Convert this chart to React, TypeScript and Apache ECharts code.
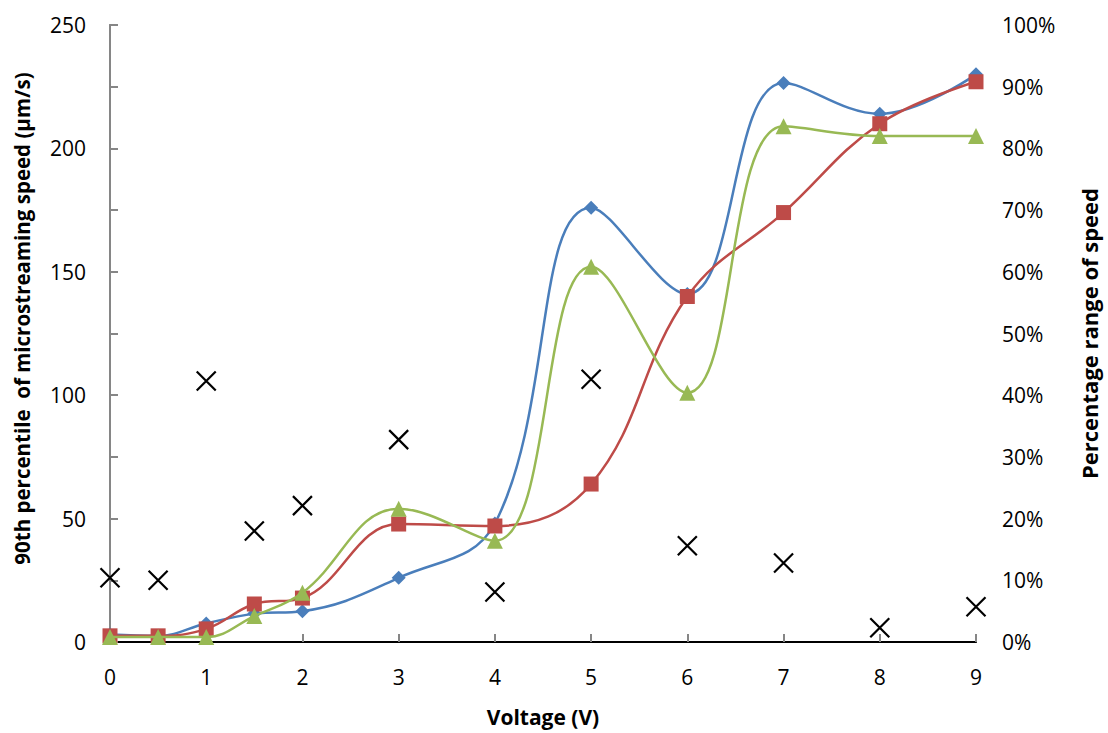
import React, { useEffect, useRef } from "react";
import * as echarts from "echarts";

const voltages = [0, 0.5, 1, 1.5, 2, 3, 4, 5, 6, 7, 8, 9];
const blueSpeed = [3, 2.5, 7.5, 11.5, 12.5, 26, 48, 176, 141, 226.5, 214, 230];
const redSpeed = [2.5, 2.5, 5.3, 15.4, 17.8, 47.8, 47, 64, 140, 174, 210, 227];
const greenSpeed = [2, 2, 2, 10.5, 20, 54, 41, 152, 101, 209, 205, 205];
const rangePct = [0.104, 0.1, 0.423, 0.18, 0.221, 0.328, 0.081, 0.426, 0.156, 0.128, 0.023, 0.057];

const xTitle = "Voltage (V)";
const yLeftTitle = "90th percentile  of microstreaming speed (µm/s)";
const yRightTitle = "Percentage range of speed";

const FONT = "Open Sans";

function pairs(xs: number[], ys: number[]) {
  return xs.map((x, i) => [x, ys[i]]);
}

export default function App() {
  const ref = useRef<HTMLDivElement>(null);
  useEffect(() => {
    if (!ref.current) return;
    const chart = echarts.init(ref.current, undefined, { renderer: "svg" });
    const axisGray = "#868686";
    chart.setOption({
      animation: false,
      backgroundColor: "#ffffff",
      grid: { left: 110, right: 130, top: 25, bottom: 91, containLabel: false },
      xAxis: [
        {
          type: "value",
          min: 0,
          max: 9,
          interval: 1,
          position: "bottom",
          name: xTitle,
          nameLocation: "middle",
          nameGap: 64,
          nameTextStyle: { fontFamily: FONT, fontWeight: "bold", fontSize: 21, color: "#000" },
          axisLine: { lineStyle: { color: axisGray, width: 2 } },
          axisTick: { inside: true, length: 8, lineStyle: { color: axisGray, width: 2 } },
          axisLabel: { fontFamily: FONT, fontSize: 21, color: "#000", margin: 24 },
          splitLine: { show: false },
        },
        {
          type: "value",
          min: 0,
          max: 9,
          interval: 1,
          position: "top",
          axisLine: { show: true, lineStyle: { color: "#000", width: 2 } },
          axisTick: { show: false },
          axisLabel: { show: false },
          splitLine: { show: false },
        },
      ],
      yAxis: [
        {
          type: "value",
          min: 0,
          max: 250,
          interval: 50,
          position: "left",
          name: yLeftTitle,
          nameLocation: "middle",
          nameGap: 78,
          nameTextStyle: { fontFamily: FONT, fontWeight: "bold", fontSize: 20.5, color: "#000", padding: [0, 0, 0, 30] },
          axisLine: { show: true, lineStyle: { color: axisGray, width: 2 } },
          axisTick: { show: true, inside: true, length: 8, lineStyle: { color: axisGray, width: 2 } },
          axisLabel: { fontFamily: FONT, fontSize: 21, color: "#000", margin: 24 },
          splitLine: { show: false },
        },
        {
          type: "value",
          min: 0,
          max: 1,
          interval: 0.1,
          position: "right",
          name: yRightTitle,
          nameLocation: "middle",
          nameGap: 102,
          nameRotate: 90,
          nameTextStyle: { fontFamily: FONT, fontWeight: "bold", fontSize: 22, color: "#000" },
          axisLine: { show: true, lineStyle: { color: axisGray, width: 2 } },
          axisTick: { show: true, inside: false, length: 8, lineStyle: { color: axisGray, width: 2 } },
          axisLabel: {
            fontFamily: FONT,
            fontSize: 21,
            color: "#000",
            margin: 26,
            formatter: (v: number) => Math.round(v * 100) + "%",
          },
          splitLine: { show: false },
        },
      ],
      series: [
        {
          type: "line",
          data: pairs(voltages, blueSpeed),
          smooth: 0.4,
          symbol: "diamond",
          symbolSize: 14,
          lineStyle: { color: "#4a7ebb", width: 2.5 },
          itemStyle: { color: "#4a7ebb" },
          z: 2,
        },
        {
          type: "line",
          data: pairs(voltages, redSpeed),
          smooth: 0.4,
          symbol: "rect",
          symbolSize: 15,
          lineStyle: { color: "#be4b48", width: 2.5 },
          itemStyle: { color: "#be4b48" },
          z: 3,
        },
        {
          type: "line",
          data: pairs(voltages, greenSpeed),
          smooth: 0.4,
          symbol: "triangle",
          symbolSize: 16,
          lineStyle: { color: "#98b954", width: 2.5 },
          itemStyle: { color: "#98b954" },
          z: 4,
        },
        {
          type: "scatter",
          yAxisIndex: 1,
          data: pairs(voltages, rangePct),
          symbol: "path://M0,0L10,10M10,0L0,10",
          symbolSize: 19,
          itemStyle: { color: "transparent", borderColor: "#000", borderWidth: 2.2, opacity: 1 },
          z: 5,
        },
      ],
    });
    return () => chart.dispose();
  }, []);
  return <div ref={ref} style={{ width: 1108, height: 733, position: "absolute", left: 0, top: 0 }} />;
}
